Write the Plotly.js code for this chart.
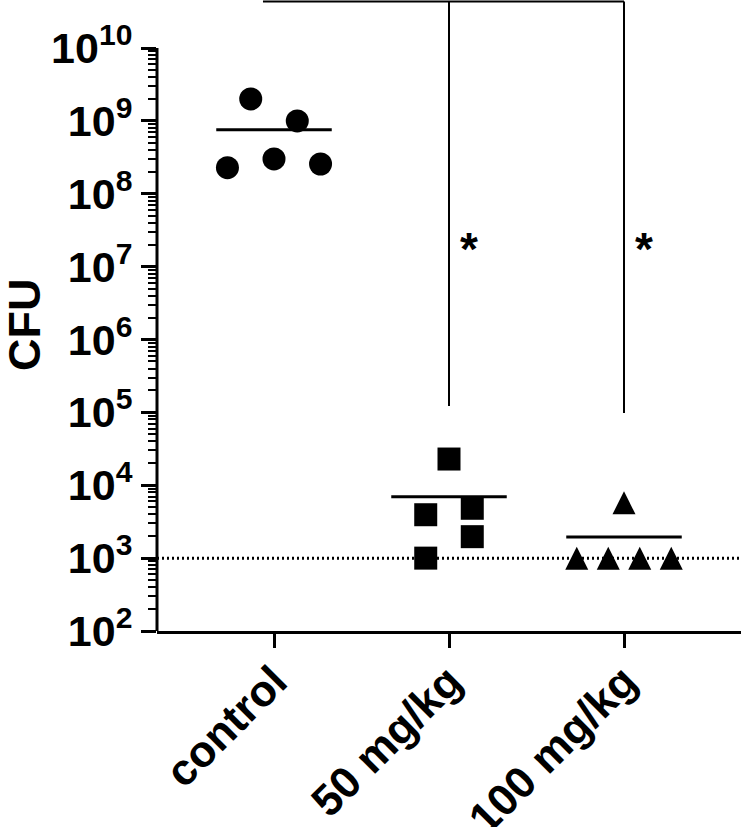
<!DOCTYPE html>
<html>
<head>
<meta charset="utf-8">
<script src="https://cdn.plot.ly/plotly-3.0.1.min.js"></script>
<style>html,body{margin:0;padding:0;background:#fff;}</style>
</head>
<body>
<div id="chart" style="width:741px;height:827px;"></div>
<script>
// ---- data ----
const categories = ['control', '50 mg/kg', '100 mg/kg'];

const controlOffsets = [-0.266, -0.133, 0, 0.133, 0.266];
const controlCFU     = [2.28e8, 2.0e9, 3.0e8, 1.0e9, 2.56e8];

const mg50Offsets = [0, -0.133, 0.133, 0.133, -0.133];
const mg50CFU     = [2.29e4, 3.94e3, 4.83e3, 1.97e3, 1.0e3];

const mg100Offsets = [0, -0.27, -0.09, 0.09, 0.27];
const mg100CFU     = [5.74e3, 1.0e3, 1.0e3, 1.0e3, 1.0e3];

const detectionLimit = 1e3;

const yTickVals = [1e2, 1e3, 1e4, 1e5, 1e6, 1e7, 1e8, 1e9, 1e10];
const yTickText = ['10<sup>2</sup>', '10<sup>3</sup>', '10<sup>4</sup>', '10<sup>5</sup>',
                   '10<sup>6</sup>', '10<sup>7</sup>', '10<sup>8</sup>', '10<sup>9</sup>', '10<sup>10</sup>'];

// significance: brackets from control to each dose group
const sigGroups      = [1, 2];
const sigLabels      = ['*', '*'];
const sigBracketEnds = [1.22e5, 9.8e4];
const sigBracketTop  = 4.35e10;
const sigBracketStart = -0.063;
const sigStarY       = 1.75e7;

// ---- styling ----
const FONT = 'Liberation Sans, Arial, Helvetica, sans-serif';
const yRange = [2, 10.6587];
const xRange = [-0.6686, 2.6686];
const meanHalf = 0.33;
const triHalfPx = 11.5;
const pxPerDecade = 583 / 8;

const minorVals = [];
for (let e = 2; e < 10; e++) {
  for (let m = 2; m <= 9; m++) minorVals.push(m * Math.pow(10, e));
}

function mean(a) { return a.reduce((s, v) => s + v, 0) / a.length; }

const groups = [
  {idx: 0, off: controlOffsets, vals: controlCFU, symbol: 'circle', yaxis: 'y'},
  {idx: 1, off: mg50Offsets, vals: mg50CFU, symbol: 'square', yaxis: 'y'},
  {idx: 2, off: mg100Offsets, vals: mg100CFU, symbol: 'arrow-up', yaxis: 'y2'}
];

const traces = [];
groups.forEach(g => {
  traces.push({
    type: 'scatter', mode: 'markers',
    x: g.off.map(o => g.idx + o),
    y: g.vals,
    yaxis: g.yaxis,
    marker: {symbol: g.symbol, size: 23, color: '#000', line: {width: 0}},
    cliponaxis: false,
    hoverinfo: 'skip'
  });
  const m = mean(g.vals);
  traces.push({
    type: 'scatter', mode: 'lines',
    x: [g.idx - meanHalf, g.idx + meanHalf],
    y: [m, m],
    line: {color: '#000', width: 3},
    hoverinfo: 'skip'
  });
});

// shapes on a log axis take data values
const shapes = [];
shapes.push({type: 'line', xref: 'paper', yref: 'y', x0: 0, x1: 0,
  y0: yTickVals[0], y1: yTickVals[yTickVals.length - 1],
  line: {color: '#000', width: 3}});
shapes.push({type: 'line', xref: 'paper', yref: 'y', x0: 0, x1: 1,
  y0: detectionLimit, y1: detectionLimit,
  layer: 'below', line: {color: '#000', width: 3, dash: '2px,3px'}});
shapes.push({type: 'line', xref: 'x', yref: 'y', x0: sigBracketStart, x1: sigGroups[sigGroups.length - 1],
  y0: sigBracketTop, y1: sigBracketTop,
  line: {color: '#000', width: 2}});
sigGroups.forEach((g, i) => {
  shapes.push({type: 'line', xref: 'x', yref: 'y', x0: g, x1: g,
    y0: sigBracketTop, y1: sigBracketEnds[i],
    line: {color: '#000', width: 2}});
});

const annotations = sigGroups.map((g, i) => ({
  x: g, y: Math.log10(sigStarY), xref: 'x', yref: 'y',
  text: sigLabels[i], showarrow: false, xshift: 20,
  xanchor: 'center', yanchor: 'middle',
  font: {family: FONT, size: 46, color: '#000', weight: 'bold'}
}));
annotations.push({
  xref: 'paper', yref: 'paper', x: -0.226, y: 0.485,
  text: 'CFU', textangle: -90, showarrow: false,
  xanchor: 'center', yanchor: 'middle',
  font: {family: FONT, size: 45, color: '#000', weight: 'bold'}
});

const d = triHalfPx / pxPerDecade;

const layout = {
  width: 741, height: 827,
  margin: {l: 157, r: 0, t: 0, b: 196, pad: 0},
  paper_bgcolor: '#fff', plot_bgcolor: '#fff',
  showlegend: false,
  xaxis: {
    range: xRange, tickmode: 'array', tickvals: [0, 1, 2], ticktext: categories,
    tickangle: -45, ticks: 'outside', ticklen: 14, tickwidth: 3, tickcolor: '#000',
    ticklabelstandoff: -10,
    showline: true, linewidth: 3, linecolor: '#000',
    showgrid: false, zeroline: false,
    tickfont: {family: FONT, size: 44, color: '#000', weight: 'bold'}
  },
  yaxis: {
    type: 'log', range: yRange, tickmode: 'array', tickvals: yTickVals, ticktext: yTickText,
    ticks: 'outside', ticklen: 15, tickwidth: 3, tickcolor: '#000',
    showline: false, showgrid: false, zeroline: false,
    tickfont: {family: FONT, size: 43, color: '#000', weight: 'bold'},
    minor: {tickmode: 'array', tickvals: minorVals, ticks: 'outside', ticklen: 8, tickwidth: 2,
            tickcolor: '#000', showgrid: false}
  },
  yaxis2: {
    type: 'log', overlaying: 'y', range: [yRange[0] - d, yRange[1] - d],
    visible: false, showgrid: false, zeroline: false
  },
  shapes: shapes,
  annotations: annotations
};

Plotly.newPlot('chart', traces, layout, {displayModeBar: false, staticPlot: true});
</script>
</body>
</html>
